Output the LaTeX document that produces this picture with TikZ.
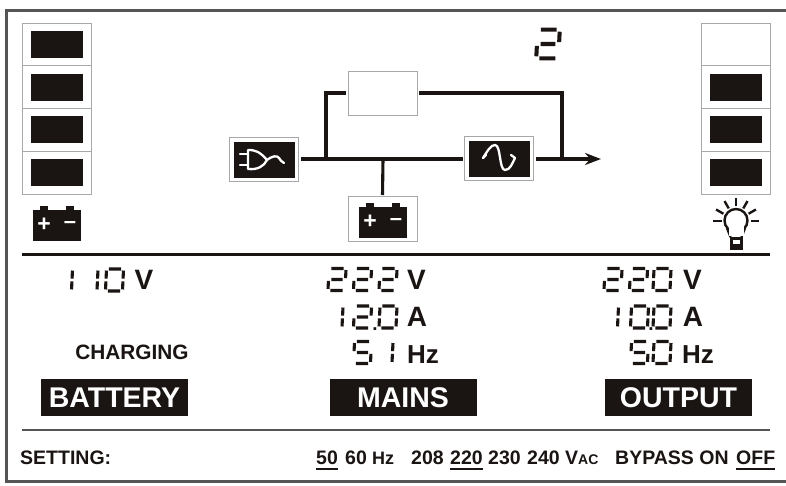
\documentclass[tikz,border=0pt]{standalone}
\usepackage{fontspec}
\setmainfont{Liberation Sans}
\usepackage{xcolor}
\usepackage{tikz}
\usetikzlibrary{arrows.meta}
\usetikzlibrary{positioning}
\tikzset{>={Stealth[length=16pt,width=12pt]}}
\definecolor{lcdblack}{HTML}{1A1513}
\definecolor{lcdgrey}{HTML}{A8A8A8}
\definecolor{lcdframe}{HTML}{555555}
\tikzset{
	pics/battery/.style = {
		code = {
			\fill[lcdblack] (-24,-15) rectangle (24,16);
			\fill[lcdblack] (-17,-19) rectangle (-9,-15);
			\fill[lcdblack] (9,-19) rectangle (17,-15);
			\node[white, inner sep=0, font=\bfseries\fontsize{23}{23}\selectfont] at (-13,0) {+};
			\node[white, inner sep=0, font=\bfseries\fontsize{22}{22}\selectfont] at (13,0) {–};
		}
	}
}
\def\segsa{(-.72,1)--(.72,1)}
\def\segsb{(1,.86)--(1,.13)}
\def\segsc{(1,-.13)--(1,-.86)}
\def\segsd{(-.72,-1)--(.72,-1)}
\def\segse{(-1,-.13)--(-1,-.86)}
\def\segsf{(-1,.86)--(-1,.13)}
\def\segsg{(-.66,0)--(.66,0)}
\def\segsoforchar#1{\ifcase#1 \segsa \segsb \segsc \segsd \segse \segsf\or \segsb \segsc\or \segsa \segsb \segsg \segse \segsd\or\or\or \segsa \segsf \segsg \segsc \segsd\fi}
\newcommand{\segdigit}[5][1]{
	\node[digitslot] (#2) at (#3,#4) {#5};
	\begin{scope}[shift={(#2.center)}, x=#1*8.5pt, y=#1*11pt, xslant=0.05]
		\draw[segment, line width=#1*3.1pt] \segsoforchar{#5};
	\end{scope}
}
\begin{document}
\begin{tikzpicture}[
				x=1pt, y=-1pt,
				digitslot/.style = {
					inner sep=0, text opacity=0,
					font=\bfseries\fontsize{12}{12}\selectfont
				},
				segment/.style = {
					draw=lcdblack
				},
				barcell/.style = {
					rectangle, draw=lcdgrey, line width=1pt,
					minimum width=69pt, minimum height=42.75pt,
					inner sep=0, outer sep=0
				},
				lamp/.style = {
					rectangle, fill=lcdblack,
					minimum width=52pt, minimum height=27pt,
					inner sep=0
				},
				flowbox/.style = {
					rectangle, draw=lcdgrey, line width=1pt, fill=white,
					minimum width=69pt, minimum height=44pt,
					inner sep=0, outer sep=2pt
				},
				iconfill/.style = {
					rectangle, fill=lcdblack,
					minimum width=61pt, minimum height=36pt,
					inner sep=0
				},
				flow/.style = {
					draw=lcdblack, line width=3.1pt
				},
				iconline/.style = {
					draw=white, line width=2.3pt, line cap=round, line join=round
				},
				unitlabel/.style = {
					inner sep=0, text=lcdblack,
					font=\bfseries\fontsize{28}{28}\selectfont
				},
				hzlabel/.style = {
					inner sep=0, text=lcdblack, anchor=base west,
					font=\bfseries\fontsize{26}{26}\selectfont
				},
				decimal/.style = {
					inner sep=0, text=lcdblack, anchor=base,
					font=\bfseries\fontsize{19}{19}\selectfont
				},
				panel/.style = {
					rectangle, fill=lcdblack, text=white,
					minimum width=147pt, minimum height=37pt,
					inner sep=0,
					font=\bfseries\fontsize{28.5}{28.5}\selectfont
				},
				setting/.style = {
					inner sep=0, text=lcdblack, anchor=base west,
					font=\bfseries\fontsize{19.5}{19.5}\selectfont
				},
				choice/.style = {
					draw=lcdblack, line width=1.4pt
				}
			]
				\useasboundingbox (0,0) rectangle (786,486);
				\fill[white] (0,0) rectangle (786,486);
				\draw[draw=lcdframe, line width=2.6pt] (786,10.5) -- (6.5,10.5) -- (6.5,481.5) -- (786,481.5);
				\coordinate (ruleleft) at (22,254.5);
				\coordinate (ruleright) at (770,254.5);
				\coordinate (setleft) at (22,430);
				\coordinate (setright) at (770,430);
				\draw[draw=lcdblack, line width=2.6pt] (ruleleft) -- (ruleright);
				\draw[draw=lcdframe, line width=2.2pt] (setleft) -- (setright);

				\node[barcell] (batcell1) at (56.5,44.4) {};
				\node[barcell, below=0pt of batcell1] (batcell2) {};
				\node[barcell, below=0pt of batcell2] (batcell3) {};
				\node[barcell, below=0pt of batcell3] (batcell4) {};
				\node[barcell] (outcell1) at (736,44.4) {};
				\node[barcell, below=0pt of outcell1] (outcell2) {};
				\node[barcell, below=0pt of outcell2] (outcell3) {};
				\node[barcell, below=0pt of outcell3] (outcell4) {};
				\foreach \n in {1,2,3,4}
					\node[lamp] (batlamp\n) at (batcell\n) {};
				\foreach \n in {2,3,4}
					\node[lamp] (outlamp\n) at (outcell\n) {};
				\pic at (57,225) {battery};

				\node[flowbox] (bypass) at (382.5,94) {};
				\node[flowbox] (plug) at (264,160) {};
				\node[flowbox] (inverter) at (499,159) {};
				\node[flowbox] (batbox) at (382.5,219) {};
				\node[iconfill] (plugicon) at (plug) {};
				\node[iconfill] (invertericon) at (inverter) {};
				\pic at (383,222) {battery};

				\draw[iconline] (240,154) -- (248,154);
				\draw[iconline] (240,165) -- (248,165);
				\draw[iconline] (248,150) -- (248,169) .. controls (258,170) and (264,166) .. (267,160) .. controls (260,152) and (256,150) .. (248,150);
				\draw[iconline] (267,160) .. controls (272,156) and (277,155) .. (279,158) .. controls (280,160) and (282,162) .. (284,163);
				\draw[iconline] (483,158) .. controls (488,150) and (491,145) .. (495,145) .. controls (501,145) and (499,170) .. (505,170) .. controls (510,170) and (512,164) .. (515,158);
				\draw[iconline] (483,158) -- (486,155);
				\draw[iconline] (515,158) -- (511,155);

				\coordinate (tapin) at (326,159);
				\coordinate (tapbat) at (383,159);
				\coordinate (tapout) at (562,159);
				\coordinate (bypassin) at (326,93);
				\coordinate (bypassout) at (562,93);
				\coordinate (outend) at (601,159);
				\draw[flow] (plug.east |- tapin) -- (inverter.west);
				\draw[flow] (tapin) -- (bypassin) -- (bypass.west |- bypassin);
				\draw[flow] (bypass.east |- bypassout) -- (bypassout) -- (tapout);
				\draw[flow] (tapbat) -- (batbox.north);
				\draw[flow, ->] (inverter.east) -- (outend);

				\draw[draw=lcdblack, line width=2.4pt, fill=white] (736,220.5) circle (11.5);
				\draw[draw=lcdblack, line width=2.4pt] (727,228) -- (730.5,237);
				\draw[draw=lcdblack, line width=2.4pt] (745,228) -- (741.5,237);
				\fill[white] (728.5,226) rectangle (743.5,236);
				\foreach \a in {0,30,60,90,120,150,180}
					\draw[draw=lcdblack, line width=2.4pt] (736,221) ++(-\a:14.5) -- ++(-\a:8.5);
				\fill[lcdblack] (729.5,237) rectangle (742.5,250);
				\fill[white] (732.5,239.5) rectangle (739.5,244);

				\segdigit[1.3]{mode}{548}{44}{2}

				\segdigit{bata}{63.5}{280}{1}
				\segdigit{batb}{89}{280}{1}
				\segdigit{batc}{114.5}{280}{0}
				\node[unitlabel] (batvolt) at (144,280) {V};
				\node[inner sep=0, text=lcdblack, font=\bfseries\fontsize{20.8}{20.8}\selectfont] (charging) at (132,352) {CHARGING};
				\node[panel] (battery) at (114.5,397.5) {BATTERY};

				\segdigit{mainsa}{337}{279.5}{2}
				\segdigit{mainsb}{362.5}{279.5}{2}
				\segdigit{mainsc}{388}{279.5}{2}
				\node[unitlabel] (mainsvolt) at (416.5,280) {V};
				\segdigit{mainsd}{334}{317}{1}
				\segdigit{mainse}{362.5}{317}{2}
				\node[decimal] (mainsdot) at (375,330) {.};
				\segdigit{mainsf}{388}{317}{0}
				\node[unitlabel] (mainsamp) at (417,317) {A};
				\segdigit{mainsg}{362.5}{352.5}{5}
				\segdigit{mainsh}{384}{352.5}{1}
				\node[hzlabel] (mainshz) at (407,363) {Hz};
				\node[panel] (mains) at (403,397.5) {MAINS};

				\segdigit{outa}{613}{279.5}{2}
				\segdigit{outb}{638.5}{279.5}{2}
				\segdigit{outc}{662}{279.5}{0}
				\node[unitlabel] (outvolt) at (692.5,280) {V};
				\segdigit{outd}{609.5}{317}{1}
				\segdigit{oute}{639.5}{317}{0}
				\node[decimal] (outdot) at (651,330) {.};
				\segdigit{outf}{662}{317}{0}
				\node[unitlabel] (outamp) at (693,317) {A};
				\segdigit{outg}{639.5}{352.5}{5}
				\segdigit{outh}{662}{352.5}{0}
				\node[hzlabel] (outhz) at (682,363) {Hz};
				\node[panel] (output) at (678.5,397.5) {OUTPUT};

				\node[setting] (setlabel) at (20,464) {SETTING:};
				\node[setting] (hzfifty) at (316,464) {50};
				\node[setting] (hzsixty) at (345,464) {60};
				\node[setting, font=\bfseries\fontsize{18}{18}\selectfont] (hzunit) at (372,464) {Hz};
				\node[setting] (vlow) at (411,464) {208};
				\node[setting] (vtwo) at (450,464) {220};
				\node[setting] (vthree) at (488,464) {230};
				\node[setting] (vfour) at (527,464) {240};
				\node[setting] (vunit) at (565,464) {V{\fontsize{14}{14}\selectfont AC}};
				\node[setting] (bypasson) at (615,464) {BYPASS ON};
				\node[setting] (bypassoff) at (736,464) {OFF};
				\draw[choice] ([yshift=-5pt]hzfifty.base west) -- ([yshift=-5pt]hzfifty.base east);
				\draw[choice] ([yshift=-5pt]vtwo.base west) -- ([yshift=-5pt]vtwo.base east);
				\draw[choice] ([yshift=-5pt]bypassoff.base west) -- ([yshift=-5pt]bypassoff.base east);
			\end{tikzpicture}
\end{document}
